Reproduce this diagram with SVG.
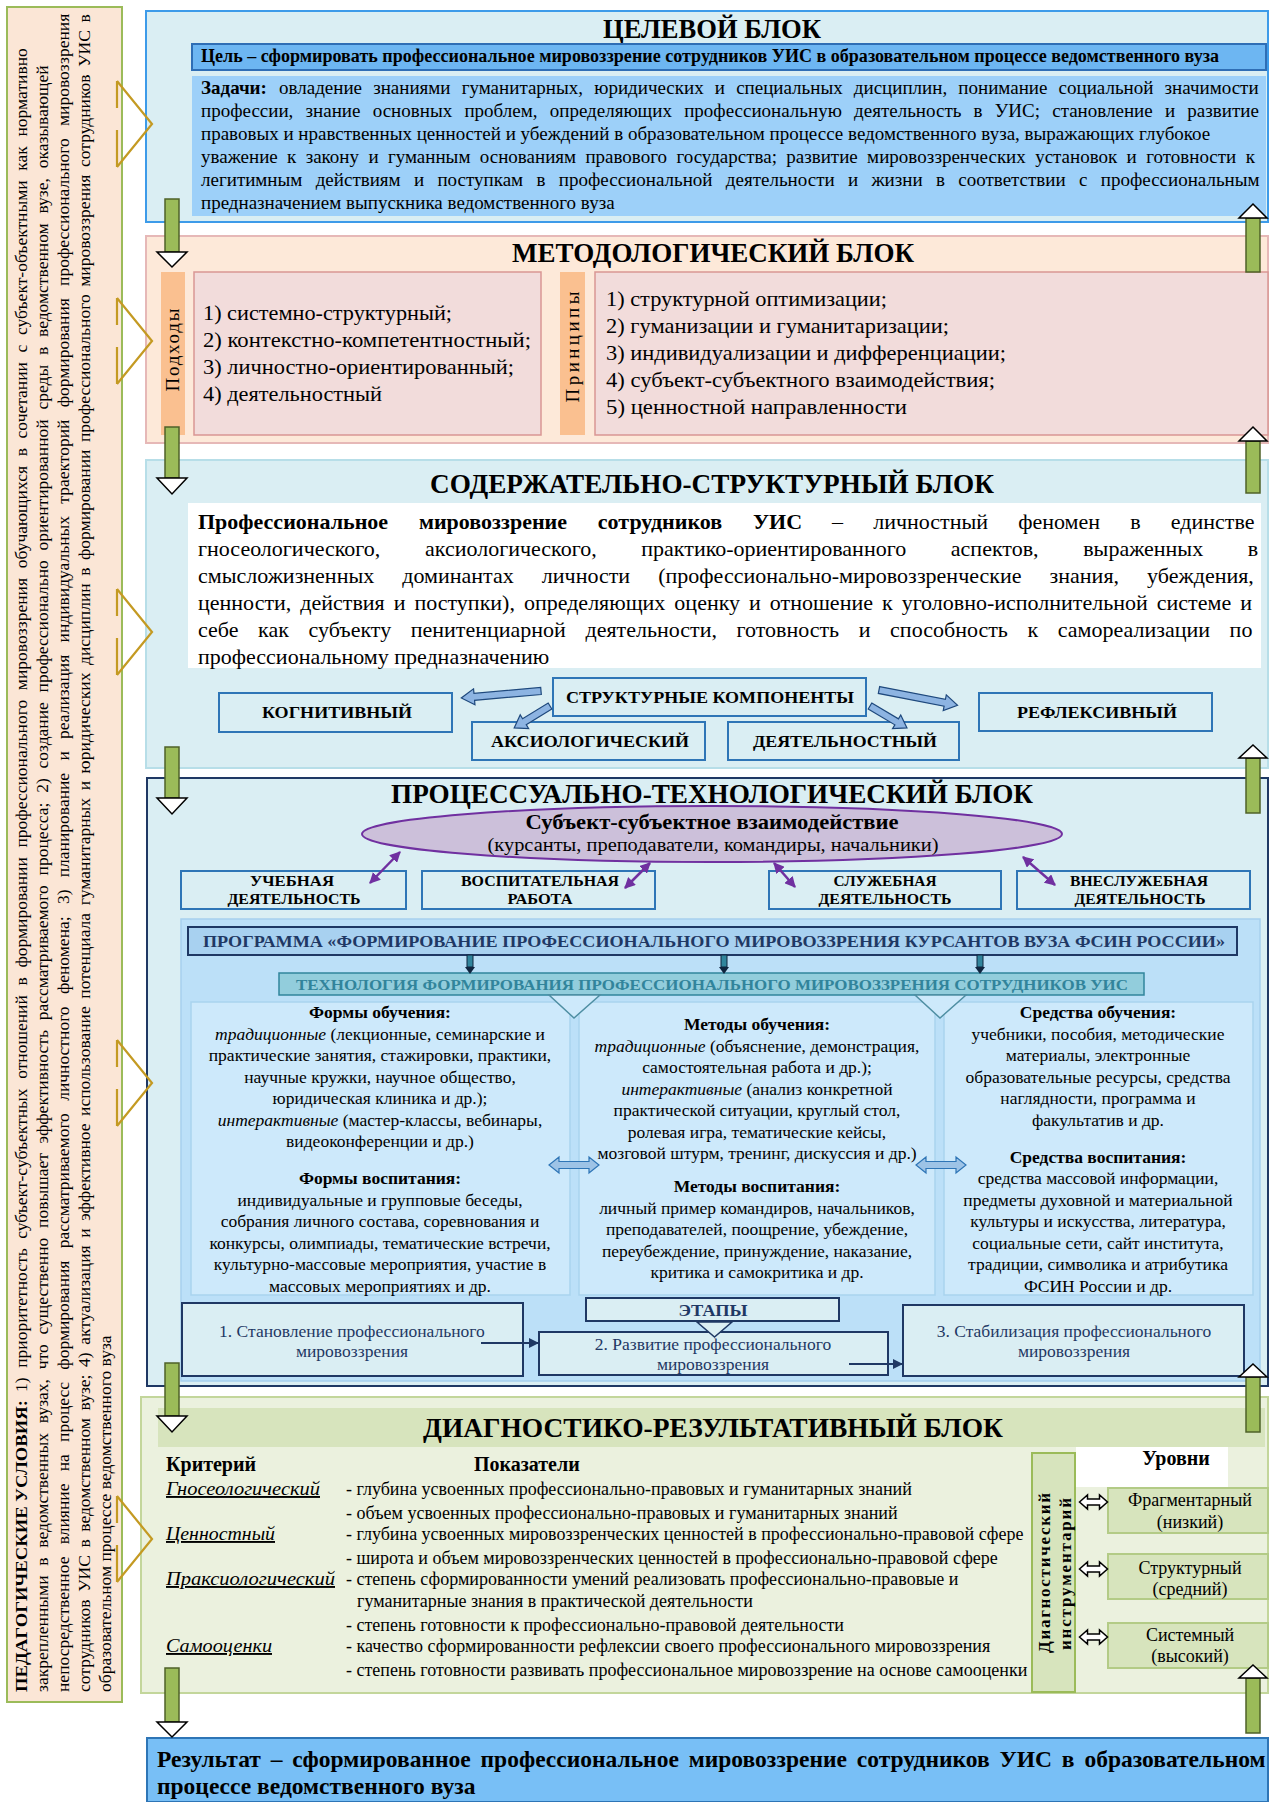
<svg xmlns="http://www.w3.org/2000/svg" width="1270" height="1802" viewBox="0 0 1270 1802">
<defs>
<style>
text{font-family:"Liberation Serif","Times New Roman",serif;fill:#000}
.b{font-weight:bold}
.i{font-style:italic}
.m{text-anchor:middle}
.ttl{font-size:27px;font-weight:bold;text-anchor:middle}
.p19{font-size:19px}
.p22{font-size:22px}
.lp{font-size:17.5px}
.shaft{fill:#9BBB59;stroke:#4F6228;stroke-width:1.5}
.head{fill:#fff;stroke:#000;stroke-width:1.5}
.chev{fill:none;stroke:#C49A22;stroke-width:2.2}
.sc{fill:#DAEEF3;stroke:#2E75B6;stroke-width:2}
.sct{font-size:17px;font-weight:bold;text-anchor:middle}
.act{font-size:15px;font-weight:bold;text-anchor:middle}
.col{fill:#CDE9FB;stroke:#A9D3EE;stroke-width:1.5}
.ct{font-size:17.5px;text-anchor:middle}
.stg{fill:#DAEEF3;stroke:#1F3864;stroke-width:2}
.st{font-size:17.5px;text-anchor:middle;fill:#1F3864}
.ind{font-size:18px}
.crit{font-size:19px;font-style:italic;text-decoration:underline}
.lvl{fill:#D7E4BD;stroke:#B3CB86;stroke-width:2}
.lt{font-size:18px;text-anchor:middle}
.blk{fill:#8DB4E2;stroke:#1F497D;stroke-width:1.2}
.dbl{fill:#9DC3E6;stroke:#2E75B6;stroke-width:1.2}
.wdbl{fill:#fff;stroke:#000;stroke-width:1.5}
.purp{stroke:#7030A0;stroke-width:2.5;fill:none;marker-start:url(#pm);marker-end:url(#pm)}
.nav{stroke:#1F3864;stroke-width:2;fill:none;marker-end:url(#nm)}
</style>
<marker id="pm" viewBox="0 0 10 10" refX="9" refY="5" markerWidth="4.4" markerHeight="4.4" orient="auto-start-reverse"><path d="M0,0 L10,5 L0,10 z" fill="#7030A0"/></marker>
<marker id="nm" viewBox="0 0 10 10" refX="9" refY="5" markerWidth="5" markerHeight="5" orient="auto"><path d="M0,0 L10,5 L0,10 z" fill="#1F3864"/></marker>
</defs>
<rect width="1270" height="1802" fill="#fff"/>

<g id="conditions">
<rect x="7" y="7" width="115" height="1695" fill="#FBE6D6" stroke="#9BBB59" stroke-width="2"/>
<text class="lp b" transform="rotate(-90)" x="-1692" y="27" textLength="292" lengthAdjust="spacingAndGlyphs">ПЕДАГОГИЧЕСКИЕ УСЛОВИЯ:</text>
<text class="lp" transform="rotate(-90)" x="-1392" y="27" word-spacing="5.3">1) приоритетность субъект-субъектных отношений в формировании профессионального мировоззрения обучающихся в сочетании с субъект-объектными как нормативно</text>
<text class="lp" transform="rotate(-90)" x="-1692" y="48" word-spacing="5.4">закрепленными в ведомственных вузах, что существенно повышает эффективность рассматриваемого процесса; 2) создание профессионально ориентированной среды в ведомственном вузе, оказывающей</text>
<text class="lp" transform="rotate(-90)" x="-1692" y="69" word-spacing="7.9">непосредственное влияние на процесс формирования рассматриваемого личностного феномена; 3) планирование и реализация индивидуальных траекторий формирования профессионального мировоззрения</text>
<text class="lp" transform="rotate(-90)" x="-1692" y="90" word-spacing="3.2">сотрудников УИС в ведомственном вузе; 4) актуализация и эффективное использование потенциала гуманитарных и юридических дисциплин в формировании профессионального мировоззрения сотрудников УИС в</text>
<text class="lp" transform="rotate(-90)" x="-1692" y="111">образовательном процессе ведомственного вуза</text>
</g>

<g id="target-block">
<rect x="146" y="11" width="1122" height="211" fill="#DAEEF3" stroke="#3D9BE9" stroke-width="2"/>
<text class="ttl" x="712" y="38" textLength="218" lengthAdjust="spacingAndGlyphs">ЦЕЛЕВОЙ БЛОК</text>
<rect x="192" y="44" width="1074" height="26" fill="#6DB6F2" stroke="#2F6EB5" stroke-width="2"/>
<text class="b" x="201" y="62" font-size="18" textLength="1018" lengthAdjust="spacingAndGlyphs">Цель – сформировать профессиональное мировоззрение сотрудников УИС в образовательном процессе ведомственного вуза</text>
<rect x="192" y="76" width="1074" height="140" fill="#9DD0F9"/>
<text class="p19 b" x="201" y="94">Задачи:</text>
<text class="p19" x="279" y="94" word-spacing="6.4">овладение знаниями гуманитарных, юридических и специальных дисциплин, понимание социальной значимости</text>
<text class="p19" x="201" y="117" word-spacing="7.5">профессии, знание основных проблем, определяющих профессиональную деятельность в УИС; становление и развитие</text>
<text class="p19" x="201" y="140">правовых и нравственных ценностей и убеждений в образовательном процессе ведомственного вуза, выражающих глубокое</text>
<text class="p19" x="201" y="163" word-spacing="4.6">уважение к закону и гуманным основаниям правового государства; развитие мировоззренческих установок и готовности к</text>
<text class="p19" x="201" y="186" word-spacing="8.6">легитимным действиям и поступкам в профессиональной деятельности и жизни в соответствии с профессиональным</text>
<text class="p19" x="201" y="209">предназначением выпускника ведомственного вуза</text>
</g>

<g id="methodological-block">
<rect x="146" y="236" width="1122" height="207" fill="#FDE9D9" stroke="#E6B8B7" stroke-width="2"/>
<text class="ttl" x="713" y="262" textLength="402" lengthAdjust="spacingAndGlyphs">МЕТОДОЛОГИЧЕСКИЙ БЛОК</text>
<rect x="161" y="272" width="24" height="163" fill="#FAC090"/>
<rect x="194" y="272" width="347" height="163" fill="#F2DCDB" stroke="#D99694" stroke-width="1.5"/>
<rect x="560" y="272" width="25" height="163" fill="#FAC090"/>
<rect x="595" y="272" width="673" height="163" fill="#F2DCDB" stroke="#D99694" stroke-width="1.5"/>
<text class="m" font-size="19" transform="rotate(-90)" x="-350" y="179" textLength="83" lengthAdjust="spacing">Подходы</text>
<text class="m" font-size="19" transform="rotate(-90)" x="-347" y="579" textLength="111" lengthAdjust="spacing">Принципы</text>
<text class="p22" x="203" y="320" textLength="249" lengthAdjust="spacingAndGlyphs">1) системно-структурный;</text>
<text class="p22" x="203" y="347" textLength="328" lengthAdjust="spacingAndGlyphs">2) контекстно-компетентностный;</text>
<text class="p22" x="203" y="374" textLength="311" lengthAdjust="spacingAndGlyphs">3) личностно-ориентированный;</text>
<text class="p22" x="203" y="401" textLength="179" lengthAdjust="spacingAndGlyphs">4) деятельностный</text>
<text class="p22" x="606" y="306" textLength="281" lengthAdjust="spacingAndGlyphs">1) структурной оптимизации;</text>
<text class="p22" x="606" y="333" textLength="343" lengthAdjust="spacingAndGlyphs">2) гуманизации и гуманитаризации;</text>
<text class="p22" x="606" y="360" textLength="400" lengthAdjust="spacingAndGlyphs">3) индивидуализации и дифференциации;</text>
<text class="p22" x="606" y="387" textLength="389" lengthAdjust="spacingAndGlyphs">4) субъект-субъектного взаимодействия;</text>
<text class="p22" x="606" y="414" textLength="301" lengthAdjust="spacingAndGlyphs">5) ценностной  направленности</text>
</g>

<g id="content-block">
<rect x="146" y="460" width="1122" height="308" fill="#DAEEF3" stroke="#B7DEE8" stroke-width="2"/>
<text class="ttl" x="712" y="493" textLength="564" lengthAdjust="spacingAndGlyphs">СОДЕРЖАТЕЛЬНО-СТРУКТУРНЫЙ БЛОК</text>
<rect x="188" y="503" width="1073" height="165" fill="#fff"/>
<text class="p22 b" x="198" y="529" word-spacing="25.3">Профессиональное мировоззрение сотрудников УИС</text>
<text class="p22" x="832" y="529" word-spacing="24.7">– личностный феномен в единстве</text>
<text class="p22" x="198" y="556" word-spacing="39.2">гносеологического, аксиологического, практико-ориентированного аспектов, выраженных в</text>
<text class="p22" x="198" y="583" word-spacing="22.6">смысложизненных доминантах личности (профессионально-мировоззренческие знания, убеждения,</text>
<text class="p22" x="198" y="610" word-spacing="3.5">ценности, действия и поступки), определяющих оценку и отношение к уголовно-исполнительной системе и</text>
<text class="p22" x="198" y="637" word-spacing="14.1">себе как субъекту пенитенциарной деятельности, готовность и способность к самореализации по</text>
<text class="p22" x="198" y="664">профессиональному предназначению</text>
</g>

<g id="structural-components">
<rect class="sc" x="553" y="678" width="313" height="38"/>
<text class="sct" x="710" y="703" textLength="288" lengthAdjust="spacingAndGlyphs">СТРУКТУРНЫЕ КОМПОНЕНТЫ</text>
</g>
<g id="cognitive">
<rect class="sc" x="219" y="693" width="233" height="39"/>
<text class="sct" x="337" y="718" textLength="150" lengthAdjust="spacingAndGlyphs">КОГНИТИВНЫЙ</text>
</g>
<g id="axiological">
<rect class="sc" x="472" y="722" width="233" height="38"/>
<text class="sct" x="590" y="747" textLength="198" lengthAdjust="spacingAndGlyphs">АКСИОЛОГИЧЕСКИЙ</text>
</g>
<g id="activity">
<rect class="sc" x="728" y="722" width="231" height="38"/>
<text class="sct" x="845" y="747" textLength="184" lengthAdjust="spacingAndGlyphs">ДЕЯТЕЛЬНОСТНЫЙ</text>
</g>
<g id="reflexive">
<rect class="sc" x="979" y="693" width="233" height="38"/>
<text class="sct" x="1097" y="718" textLength="160" lengthAdjust="spacingAndGlyphs">РЕФЛЕКСИВНЫЙ</text>
</g>

<g id="process-block">
<rect x="147" y="778" width="1121" height="608" fill="#DAEEF3" stroke="#1F3864" stroke-width="2"/>
<text class="ttl" x="712" y="803" textLength="642" lengthAdjust="spacingAndGlyphs">ПРОЦЕССУАЛЬНО-ТЕХНОЛОГИЧЕСКИЙ БЛОК</text>
</g>
<g id="interaction">
<ellipse cx="712" cy="834" rx="350" ry="28" fill="#CCC0DA" stroke="#7030A0" stroke-width="2"/>
<text class="b m" x="712" y="829" font-size="21" textLength="373" lengthAdjust="spacingAndGlyphs">Субъект-субъектное взаимодействие</text>
<text class="m" x="713" y="851" font-size="19.5" textLength="451" lengthAdjust="spacingAndGlyphs">(курсанты, преподаватели, командиры, начальники)</text>
</g>
<g id="study-activity">
<rect class="sc" x="181" y="871" width="225" height="38"/>
<text class="act" x="292" y="886" textLength="84" lengthAdjust="spacingAndGlyphs">УЧЕБНАЯ</text>
<text class="act" x="294" y="904" textLength="133" lengthAdjust="spacingAndGlyphs">ДЕЯТЕЛЬНОСТЬ</text>
</g>
<g id="educational-work">
<rect class="sc" x="422" y="871" width="233" height="38"/>
<text class="act" x="540" y="886" textLength="158" lengthAdjust="spacingAndGlyphs">ВОСПИТАТЕЛЬНАЯ</text>
<text class="act" x="540" y="904" textLength="65" lengthAdjust="spacingAndGlyphs">РАБОТА</text>
</g>
<g id="service-activity">
<rect class="sc" x="769" y="871" width="232" height="38"/>
<text class="act" x="885" y="886" textLength="103" lengthAdjust="spacingAndGlyphs">СЛУЖЕБНАЯ</text>
<text class="act" x="885" y="904" textLength="133" lengthAdjust="spacingAndGlyphs">ДЕЯТЕЛЬНОСТЬ</text>
</g>
<g id="extra-service-activity">
<rect class="sc" x="1017" y="871" width="233" height="38"/>
<text class="act" x="1139" y="886" textLength="138" lengthAdjust="spacingAndGlyphs">ВНЕСЛУЖЕБНАЯ</text>
<text class="act" x="1140" y="904" textLength="131" lengthAdjust="spacingAndGlyphs">ДЕЯТЕЛЬНОСТЬ</text>
</g>

<g id="program-panel">
<rect x="181" y="919" width="1079" height="462" fill="#BCE0F8" stroke="#A7D0EE" stroke-width="1.5"/>
</g>
<g id="program">
<rect x="188" y="927" width="1049" height="28" fill="#A8D1F0" stroke="#1F3864" stroke-width="2"/>
<text class="b m" x="714" y="947" font-size="16" style="fill:#1F3864" textLength="1022" lengthAdjust="spacingAndGlyphs">ПРОГРАММА «ФОРМИРОВАНИЕ ПРОФЕССИОНАЛЬНОГО МИРОВОЗЗРЕНИЯ КУРСАНТОВ ВУЗА ФСИН РОССИИ»</text>
</g>
<g id="technology">
<rect x="279" y="973" width="865" height="22" fill="#92CDDC" stroke="#31859C" stroke-width="1.5"/>
<text class="b m" x="712" y="990" font-size="15" style="fill:#31849B" textLength="832" lengthAdjust="spacingAndGlyphs">ТЕХНОЛОГИЯ ФОРМИРОВАНИЯ ПРОФЕССИОНАЛЬНОГО МИРОВОЗЗРЕНИЯ СОТРУДНИКОВ УИС</text>
</g>

<g id="forms">
<rect class="col" x="191" y="1002" width="379" height="293"/>
<text class="ct b" x="380" y="1018">Формы обучения:</text>
<text class="ct" x="380" y="1039.5"><tspan class="i">традиционные</tspan> (лекционные, семинарские и</text>
<text class="ct" x="380" y="1061">практические занятия, стажировки, практики,</text>
<text class="ct" x="380" y="1082.5">научные кружки, научное общество,</text>
<text class="ct" x="380" y="1104">юридическая клиника и др.);</text>
<text class="ct" x="380" y="1125.5"><tspan class="i">интерактивные</tspan> (мастер-классы, вебинары,</text>
<text class="ct" x="380" y="1147">видеоконференции и др.)</text>
<text class="ct b" x="380" y="1184">Формы воспитания:</text>
<text class="ct" x="380" y="1205.5">индивидуальные и групповые беседы,</text>
<text class="ct" x="380" y="1227">собрания личного состава, соревнования и</text>
<text class="ct" x="380" y="1248.5">конкурсы, олимпиады, тематические встречи,</text>
<text class="ct" x="380" y="1270">культурно-массовые мероприятия,  участие в</text>
<text class="ct" x="380" y="1291.5">массовых мероприятиях и др.</text>
</g>
<g id="methods">
<rect class="col" x="579" y="1002" width="356" height="293"/>
<text class="ct b" x="757" y="1030">Методы обучения:</text>
<text class="ct" x="757" y="1052"><tspan class="i">традиционные</tspan> (объяснение, демонстрация,</text>
<text class="ct" x="757" y="1073">самостоятельная работа и др.);</text>
<text class="ct" x="757" y="1095"><tspan class="i">интерактивные</tspan> (анализ конкретной</text>
<text class="ct" x="757" y="1116">практической ситуации, круглый стол,</text>
<text class="ct" x="757" y="1138">ролевая игра, тематические кейсы,</text>
<text class="ct" x="757" y="1159">мозговой штурм, тренинг, дискуссия и др.)</text>
<text class="ct b" x="757" y="1192">Методы воспитания:</text>
<text class="ct" x="757" y="1214">личный пример командиров, начальников,</text>
<text class="ct" x="757" y="1235">преподавателей, поощрение, убеждение,</text>
<text class="ct" x="757" y="1257">переубеждение, принуждение, наказание,</text>
<text class="ct" x="757" y="1278">критика и самокритика и др.</text>
</g>
<g id="means">
<rect class="col" x="944" y="1002" width="309" height="293"/>
<text class="ct b" x="1098" y="1018">Средства обучения:</text>
<text class="ct" x="1098" y="1039.5">учебники, пособия, методические</text>
<text class="ct" x="1098" y="1061">материалы, электронные</text>
<text class="ct" x="1098" y="1082.5">образовательные ресурсы, средства</text>
<text class="ct" x="1098" y="1104">наглядности, программа и</text>
<text class="ct" x="1098" y="1125.5">факультатив и др.</text>
<text class="ct b" x="1098" y="1163">Средства воспитания:</text>
<text class="ct" x="1098" y="1184">средства массовой информации,</text>
<text class="ct" x="1098" y="1205.5">предметы духовной и материальной</text>
<text class="ct" x="1098" y="1227">культуры и искусства, литература,</text>
<text class="ct" x="1098" y="1248.5">социальные сети, сайт института,</text>
<text class="ct" x="1098" y="1270">традиции, символика и атрибутика</text>
<text class="ct" x="1098" y="1291.5">ФСИН России и др.</text>
</g>

<g id="stages-label">
<rect x="586" y="1298" width="253" height="23" fill="#DAEEF3" stroke="#1F3864" stroke-width="2"/>
<text class="b m" x="713" y="1316" font-size="17" style="fill:#1F3864" textLength="69" lengthAdjust="spacingAndGlyphs">ЭТАПЫ</text>
</g>
<g id="stage-1">
<rect class="stg" x="182" y="1303" width="341" height="73"/>
<text class="st" x="352" y="1337">1. Становление профессионального</text>
<text class="st" x="352" y="1357">мировоззрения</text>
</g>
<g id="stage-2">
<rect class="stg" x="539" y="1332" width="349" height="43"/>
<text class="st" x="713" y="1350">2. Развитие профессионального</text>
<text class="st" x="713" y="1370">мировоззрения</text>
</g>
<g id="stage-3">
<rect class="stg" x="903" y="1305" width="341" height="71"/>
<text class="st" x="1074" y="1337">3. Стабилизация профессионального</text>
<text class="st" x="1074" y="1357">мировоззрения</text>
</g>

<g id="diagnostic-block">
<rect x="141" y="1397" width="1127" height="296" fill="#EBF1DE" stroke="#C3D69B" stroke-width="2"/>
<rect x="158" y="1408" width="1107" height="39" fill="#D7E4BD"/>
<rect x="1076" y="1447" width="152" height="40" fill="#fff"/>
<text class="ttl" x="713" y="1437" textLength="580" lengthAdjust="spacingAndGlyphs">ДИАГНОСТИКО-РЕЗУЛЬТАТИВНЫЙ БЛОК</text>
<text class="b" x="166" y="1471" font-size="20">Критерий</text>
<text class="b" x="474" y="1471" font-size="20">Показатели</text>
<text class="b m" x="1176" y="1465" font-size="20">Уровни</text>
<text class="crit" x="166" y="1495" textLength="154" lengthAdjust="spacingAndGlyphs">Гносеологический</text>
<text class="crit" x="166" y="1540" textLength="109" lengthAdjust="spacingAndGlyphs">Ценностный</text>
<text class="crit" x="166" y="1585" textLength="169" lengthAdjust="spacingAndGlyphs">Праксиологический</text>
<text class="crit" x="166" y="1652" textLength="106" lengthAdjust="spacingAndGlyphs">Самооценки</text>
<text class="ind" x="346" y="1495">- глубина усвоенных профессионально-правовых и гуманитарных знаний</text>
<text class="ind" x="346" y="1519">- объем усвоенных профессионально-правовых и гуманитарных знаний</text>
<text class="ind" x="346" y="1540">- глубина усвоенных мировоззренческих ценностей в профессионально-правовой сфере</text>
<text class="ind" x="346" y="1564">- широта и объем мировоззренческих ценностей в профессионально-правовой сфере</text>
<text class="ind" x="346" y="1585">- степень сформированности умений реализовать профессионально-правовые и</text>
<text class="ind" x="357" y="1607">гуманитарные знания в практической деятельности</text>
<text class="ind" x="346" y="1631">- степень готовности к профессионально-правовой деятельности</text>
<text class="ind" x="346" y="1652">- качество сформированности рефлексии своего профессионального мировоззрения</text>
<text class="ind" x="346" y="1676">- степень готовности развивать профессиональное мировоззрение на основе самооценки</text>
</g>
<g id="diagnostic-tools">
<rect x="1032" y="1453" width="43" height="239" fill="#D7E4BD" stroke="#9BBB59" stroke-width="2"/>
<text class="b m" font-size="17" transform="rotate(-90)" x="-1573" y="1050" textLength="160" lengthAdjust="spacing">Диагностический</text>
<text class="b m" font-size="17" transform="rotate(-90)" x="-1574" y="1071" textLength="152" lengthAdjust="spacing">инструментарий</text>
</g>
<g id="level-fragmentary">
<rect class="lvl" x="1108" y="1488" width="160" height="45"/>
<text class="lt" x="1190" y="1506">Фрагментарный</text>
<text class="lt" x="1190" y="1528">(низкий)</text>
</g>
<g id="level-structural">
<rect class="lvl" x="1108" y="1554" width="160" height="45"/>
<text class="lt" x="1190" y="1574">Структурный</text>
<text class="lt" x="1190" y="1595">(средний)</text>
</g>
<g id="level-systemic">
<rect class="lvl" x="1108" y="1623" width="160" height="45"/>
<text class="lt" x="1190" y="1641">Системный</text>
<text class="lt" x="1190" y="1662">(высокий)</text>
</g>

<g id="result">
<rect x="147" y="1738" width="1121" height="64" fill="#78BFF6" stroke="#2E75B6" stroke-width="2"/>
<text class="b" x="157" y="1767" font-size="23.5" word-spacing="4">Результат – сформированное профессиональное мировоззрение сотрудников УИС в образовательном</text>
<text class="b" x="157" y="1794" font-size="23.5">процессе ведомственного вуза</text>
</g>

<g id="connectors">
<path class="chev" d="M117,81 L152,124 L117,167 M117,81 V108 M117,130 V167"/>
<path class="chev" d="M117,298 L152,341 L117,384 M117,298 V325 M117,347 V384"/>
<path class="chev" d="M117,589 L152,632 L117,675 M117,589 V616 M117,638 V675"/>
<path class="chev" d="M117,1040 L152,1083 L117,1126 M117,1040 V1067 M117,1089 V1126"/>
<path class="chev" d="M117,1496 L152,1539 L117,1582 M117,1496 V1523 M117,1545 V1582"/>

<rect class="shaft" x="165" y="199" width="14" height="53"/><polygon class="head" points="157,252 187,252 172,267"/>
<rect class="shaft" x="165" y="427" width="14" height="51"/><polygon class="head" points="157,478 187,478 172,494"/>
<rect class="shaft" x="165" y="747" width="14" height="51"/><polygon class="head" points="157,798 187,798 172,814"/>
<rect class="shaft" x="165" y="1363" width="14" height="53"/><polygon class="head" points="157,1416 187,1416 172,1432"/>
<rect class="shaft" x="165" y="1668" width="14" height="54"/><polygon class="head" points="157,1722 187,1722 172,1737"/>

<rect class="shaft" x="1246" y="218" width="14" height="54"/><polygon class="head" points="1253,204 1267,218 1239,218"/>
<rect class="shaft" x="1246" y="441" width="14" height="52"/><polygon class="head" points="1253,427 1267,441 1239,441"/>
<rect class="shaft" x="1246" y="758" width="14" height="55"/><polygon class="head" points="1253,745 1267,758 1239,758"/>
<rect class="shaft" x="1246" y="1377" width="14" height="55"/><polygon class="head" points="1253,1364 1267,1377 1239,1377"/>
<rect class="shaft" x="1246" y="1678" width="14" height="55"/><polygon class="head" points="1253,1665 1267,1678 1239,1678"/>

<polygon class="blk" transform="translate(541,691) rotate(175)" points="0,-3.5 67,-3.5 67,-8 80,0 67,8 67,3.5 0,3.5"/>
<polygon class="blk" transform="translate(879,690) rotate(11)" points="0,-3.5 67,-3.5 67,-8 80,0 67,8 67,3.5 0,3.5"/>
<polygon class="blk" transform="translate(550,706) rotate(148.5)" points="0,-3.5 30,-3.5 30,-8 42,0 30,8 30,3.5 0,3.5"/>
<polygon class="blk" transform="translate(870,706) rotate(30.7)" points="0,-3.5 31,-3.5 31,-8 43,0 31,8 31,3.5 0,3.5"/>

<line class="purp" x1="400" y1="852" x2="370" y2="883"/>
<line class="purp" x1="650" y1="863" x2="625" y2="888"/>
<line class="purp" x1="774" y1="863" x2="795" y2="887"/>
<line class="purp" x1="1023" y1="857" x2="1055" y2="885"/>

<g fill="#31859C" stroke="#0F243E" stroke-width="1">
<rect x="467" y="955" width="6" height="12"/><rect x="721" y="955" width="6" height="12"/><rect x="977" y="955" width="6" height="12"/>
</g>
<g fill="#0F243E">
<polygon points="465,967 475,967 470,974"/><polygon points="719,967 729,967 724,974"/><polygon points="975,967 985,967 980,974"/>
</g>
<polygon points="549,995 600,995 574,1018" fill="#CDE9FB" stroke="#4F8FA3" stroke-width="1.5"/>
<polygon points="915,995 966,995 940,1018" fill="#CDE9FB" stroke="#4F8FA3" stroke-width="1.5"/>

<polygon class="dbl" transform="translate(574,1165)" points="-25,0 -15,-8 -15,-3.5 15,-3.5 15,-8 25,0 15,8 15,3.5 -15,3.5 -15,8"/>
<polygon class="dbl" transform="translate(941,1165)" points="-25,0 -15,-8 -15,-3.5 15,-3.5 15,-8 25,0 15,8 15,3.5 -15,3.5 -15,8"/>

<polygon points="697,1322 732,1322 714.5,1337" fill="#DAEEF3" stroke="#1F3864" stroke-width="1.5"/>
<line class="nav" x1="481" y1="1343" x2="538" y2="1343"/>
<line class="nav" x1="849" y1="1364" x2="902" y2="1364"/>

<polygon class="wdbl" transform="translate(1093.5,1502)" points="-14,0 -6,-7 -6,-3 6,-3 6,-7 14,0 6,7 6,3 -6,3 -6,7"/>
<polygon class="wdbl" transform="translate(1093.5,1569)" points="-14,0 -6,-7 -6,-3 6,-3 6,-7 14,0 6,7 6,3 -6,3 -6,7"/>
<polygon class="wdbl" transform="translate(1093.5,1637)" points="-14,0 -6,-7 -6,-3 6,-3 6,-7 14,0 6,7 6,3 -6,3 -6,7"/>
</g>
</svg>
